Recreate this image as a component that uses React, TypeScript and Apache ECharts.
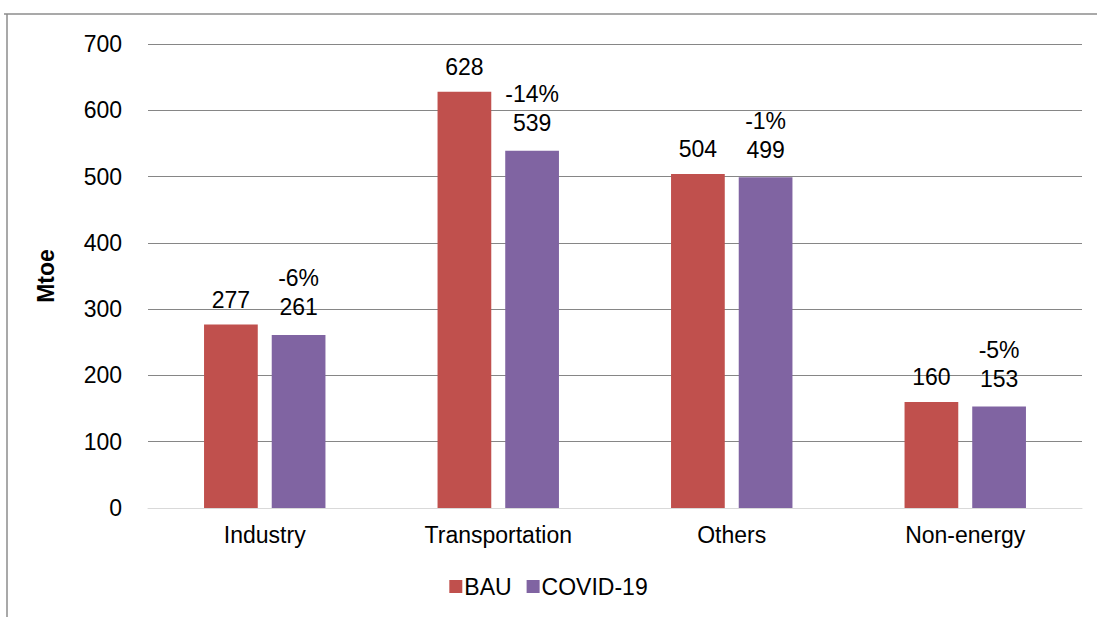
import React, { useEffect, useRef } from "react";
import * as echarts from "echarts";

const categories = ["Industry", "Transportation", "Others", "Non-energy"];
const bauValues = [277, 628, 504, 160];
const covidValues = [261, 539, 499, 153];
const covidChange = ["-6%", "-14%", "-1%", "-5%"];
const yTicks = { min: 0, max: 700, interval: 100 };

export default function App() {
  const ref = useRef<HTMLDivElement>(null);
  useEffect(() => {
    document.body.style.margin = "0";
    const chart = echarts.init(ref.current!, null, { renderer: "svg" });
    const font = "Arial, 'Liberation Sans', sans-serif";
    const fs = 23;
    chart.setOption({
      animation: false,
      backgroundColor: "#ffffff",
      textStyle: { fontFamily: font },
      grid: { left: 148, right: 15, top: 44, bottom: 109, containLabel: false },
      legend: {
        data: ["BAU", "COVID-19"],
        bottom: 14,
        left: "center",
        itemWidth: 13,
        itemHeight: 13,
        itemGap: 15,
        icon: "rect",
        textStyle: { fontSize: fs, color: "#000", fontFamily: font, padding: [0, 0, 0, -3] },
      },
      xAxis: {
        type: "category",
        data: categories,
        axisLine: { lineStyle: { color: "#d9d9d9", width: 1 } },
        axisTick: { show: false },
        axisLabel: { fontSize: fs, color: "#000", margin: 15, fontFamily: font },
      },
      yAxis: {
        type: "value",
        min: yTicks.min,
        max: yTicks.max,
        interval: yTicks.interval,
        name: "Mtoe",
        nameLocation: "middle",
        nameGap: 91,
        nameTextStyle: { fontSize: 23, fontWeight: "bold", color: "#000", fontFamily: font },
        axisLine: { show: false },
        axisTick: { show: false },
        axisLabel: { fontSize: fs, color: "#000", margin: 26, fontFamily: font },
        splitLine: { lineStyle: { color: "#868686", width: 1 } },
      },
      series: [
        {
          name: "BAU",
          type: "bar",
          data: bauValues,
          itemStyle: { color: "#C0504D" },
          barCategoryGap: "48%",
          barGap: "26%",
          label: { show: true, position: "top", distance: 13, fontSize: fs, color: "#000", fontFamily: font },
        },
        {
          name: "COVID-19",
          type: "bar",
          data: covidValues,
          itemStyle: { color: "#8064A2" },
          barCategoryGap: "48%",
          barGap: "26%",
          label: {
            show: true,
            position: "top",
            distance: 13,
            fontSize: fs,
            lineHeight: 29,
            color: "#000",
            fontFamily: font,
            formatter: (p: any) => covidChange[p.dataIndex] + "\n" + p.value,
          },
        },
      ],
      graphic: [
        { type: "line", shape: { x1: 4, y1: 14, x2: 1097, y2: 14 }, style: { stroke: "#8c8c8c", lineWidth: 1.5 } },
        { type: "line", shape: { x1: 7, y1: 14, x2: 7, y2: 617 }, style: { stroke: "#8c8c8c", lineWidth: 1.5 } },
      ],
    });
    return () => chart.dispose();
  }, []);
  return <div ref={ref} style={{ position: "absolute", left: 0, top: 0, width: 1097, height: 617 }} />;
}
